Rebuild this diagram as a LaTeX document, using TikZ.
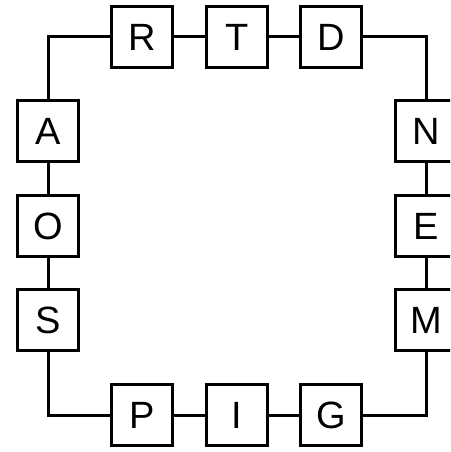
\documentclass[tikz,border=0pt]{standalone}
\usepackage{fontspec}
\setmainfont{Liberation Sans}
\begin{document}
\begin{tikzpicture}[x=1pt,y=-1pt,
  box/.style={draw, line width=3pt, minimum size=61pt, inner sep=0pt, font=\fontsize{38}{40}\selectfont},
  wire/.style={line width=3pt}]
\useasboundingbox (0,0) rectangle (450,452);
\clip (0,0) rectangle (450,452);
\node[box] (R) at (142,37) {R};
\node[box] (T) at (237,37) {T};
\node[box] (D) at (331,37) {D};
\node[box] (A) at (48,131) {A};
\node[box] (O) at (48,226) {O};
\node[box] (S) at (48,320) {S};
\node[box] (N) at (426,131) {N};
\node[box] (E) at (426,226) {E};
\node[box] (M) at (426,320) {M};
\node[box] (P) at (142,415) {P};
\node[box] (I) at (237,415) {I};
\node[box] (G) at (331,415) {G};
\draw[wire] (R) -- (T);
\draw[wire] (T) -- (D);
\draw[wire] (D) -| (N);
\draw[wire] (A) |- (R);
\draw[wire] (A) -- (O);
\draw[wire] (O) -- (S);
\draw[wire] (S) |- (P);
\draw[wire] (P) -- (I);
\draw[wire] (I) -- (G);
\draw[wire] (G) -| (M);
\draw[wire] (N) -- (E);
\draw[wire] (E) -- (M);
\end{tikzpicture}
\end{document}
